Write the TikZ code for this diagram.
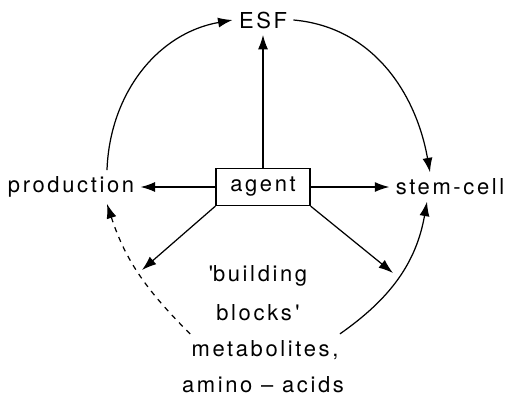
\documentclass[tikz,border=0pt]{standalone}
\usepackage{fontspec}
\setmainfont{TeX Gyre Heros}[LetterSpace=12]
\usetikzlibrary{arrows.meta}

\begin{document}
\begin{tikzpicture}[x=0.02cm, y=0.02cm, line width=0.7pt, >={Latex[length=2.9mm, width=2mm]},
		every node/.style={font=\fontsize{12.5}{15}\selectfont}]
		\useasboundingbox (0,0) rectangle (509,397);
		\node (esf) at (263,377) {ESF};
		\node (agent)[draw, inner sep=0pt, minimum width=1.88cm, minimum height=0.74cm] at (263,210) {agent};
		\node (prod) at (71,210) {production};
		\node (stem) at (450,210) {stem-cell};
		\node (bb1) at (258,121) {\textquotesingle building};
		\node (bb2) at (258,84) {blocks\,\textquotesingle};
		\node (bb3) at (265,47) {metabolites,};
		\node (bb4) at (263,12) {amino -- acids};
		\coordinate (left) at (142,127);
		\coordinate (right) at (393,124);

		\draw [->](agent)--(esf);
		\draw [->](agent)--(prod);
		\draw [->](agent)--(stem);
		\draw [->](agent.south west)--(left);
		\draw [->](agent.south east)--(right);

		\draw [->]([xshift=0.72cm]prod.north) to[out=88, in=190] (esf.west);
		\draw [->](esf.east) to[out=-5, in=100] ([xshift=-0.4cm]stem.north);
		\draw [->, dashed]([xshift=0.1cm]bb3.north west) to[out=135, in=-72] ([xshift=0.72cm]prod.south);
		\draw [->]([xshift=-0.1cm]bb3.north east) to[out=35, in=-100] ([xshift=-0.46cm]stem.south);
	\end{tikzpicture}
\end{document}
